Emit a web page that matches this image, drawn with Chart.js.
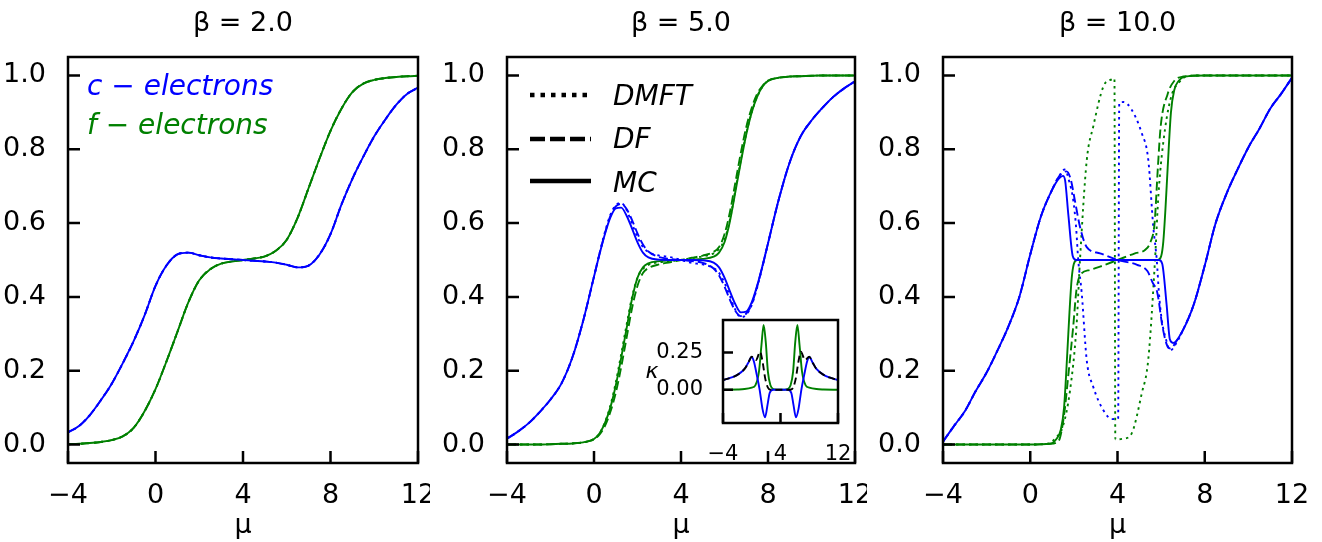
<!DOCTYPE html>
<html>
<head>
<meta charset="utf-8">
<script src="https://cdn.jsdelivr.net/npm/chart.js@4.4.1/dist/chart.umd.min.js"></script>
<style>
  body { margin: 0; background: #fff; }
  #wrap { position: relative; width: 1322px; height: 542px; background: #fff; }
  canvas { position: absolute; top: 0; }
</style>
</head>
<body>
<div id="wrap">
  <canvas id="p1" width="430" height="542" style="left:0px"></canvas>
  <canvas id="p2" width="428" height="542" style="left:439px"></canvas>
  <canvas id="p3" width="447" height="542" style="left:875px"></canvas>
  <canvas id="ins" width="215" height="150" style="left:640px;top:310px"></canvas>
</div>
<script>
// tick values
var muTicks = [-4, 0, 4, 8, 12];
var nTicks = [0, 0.2, 0.4, 0.6, 0.8, 1.0];
var insetMuTicks = [-4, 4, 12];
var kappaTicks = [0, 0.25];

// beta = 2.0 (DMFT, DF and MC lie on top of each other)
var mu1 = [-4, -3.5, -3, -2.5, -2, -1.5, -1, -0.5, 0, 0.5, 1, 1.5, 2, 2.5, 3, 3.5, 4,
           4.5, 5, 5.5, 6, 6.5, 7, 7.5, 8, 8.5, 9, 9.5, 10, 10.5, 11, 11.5, 12];
var c1 = [0.033, 0.05, 0.08, 0.12, 0.165, 0.22, 0.28, 0.35, 0.43, 0.485, 0.515, 0.52, 0.513, 0.507, 0.504, 0.502, 0.5,
          0.498, 0.496, 0.493, 0.487, 0.48, 0.485, 0.515, 0.57, 0.65, 0.72, 0.78, 0.835, 0.88, 0.92, 0.95, 0.967];
var f1 = [0.001, 0.002, 0.004, 0.007, 0.012, 0.022, 0.045, 0.09, 0.15, 0.225, 0.305, 0.385, 0.445, 0.475, 0.49, 0.496, 0.5,
          0.504, 0.51, 0.525, 0.555, 0.615, 0.695, 0.775, 0.85, 0.91, 0.955, 0.978, 0.988, 0.993, 0.996, 0.998, 0.999];

// beta = 5.0
var mu2 = [-4, -3.5, -3, -2.5, -2, -1.5, -1, -0.5, 0, 0.25, 0.5, 0.75, 1, 1.25, 1.5, 1.75, 2, 2.25, 2.5, 3, 3.5, 4,
           4.5, 5, 5.5, 5.75, 6, 6.25, 6.5, 6.75, 7, 7.25, 7.5, 7.75, 8, 8.5, 9, 9.5, 10, 10.5, 11, 11.5, 12];
var c2MC = [0.016, 0.035, 0.058, 0.088, 0.122, 0.165, 0.235, 0.335, 0.455, 0.515, 0.57, 0.615, 0.64, 0.642, 0.62, 0.585, 0.548, 0.52, 0.507, 0.501, 0.5, 0.5,
            0.5, 0.499, 0.493, 0.48, 0.452, 0.415, 0.38, 0.358, 0.36, 0.385, 0.43, 0.485, 0.545, 0.665, 0.765, 0.835, 0.878, 0.912, 0.942, 0.965, 0.984];
var c2DMFT = [0.016, 0.035, 0.058, 0.088, 0.122, 0.165, 0.235, 0.335, 0.455, 0.517, 0.575, 0.622, 0.648, 0.655, 0.635, 0.598, 0.562, 0.535, 0.522, 0.512, 0.508, 0.5,
              0.492, 0.488, 0.478, 0.465, 0.438, 0.402, 0.365, 0.345, 0.352, 0.378, 0.425, 0.483, 0.545, 0.665, 0.765, 0.835, 0.878, 0.912, 0.942, 0.965, 0.984];
var c2DF = [0.016, 0.035, 0.058, 0.088, 0.122, 0.165, 0.235, 0.335, 0.455, 0.516, 0.572, 0.619, 0.645, 0.652, 0.638, 0.608, 0.572, 0.542, 0.523, 0.508, 0.503, 0.5,
            0.497, 0.492, 0.477, 0.458, 0.428, 0.392, 0.362, 0.348, 0.355, 0.38, 0.428, 0.484, 0.545, 0.665, 0.765, 0.835, 0.878, 0.912, 0.942, 0.965, 0.984];
var f2MC = [0, 0, 0, 0, 0.001, 0.002, 0.003, 0.006, 0.015, 0.03, 0.058, 0.1, 0.16, 0.235, 0.315, 0.395, 0.452, 0.48, 0.491, 0.497, 0.499, 0.5,
            0.501, 0.503, 0.509, 0.52, 0.548, 0.605, 0.685, 0.765, 0.84, 0.9, 0.942, 0.97, 0.985, 0.994, 0.997, 0.998, 0.999, 1, 1, 1, 1];
var f2DMFT = [0, 0, 0, 0, 0.001, 0.002, 0.003, 0.006, 0.015, 0.03, 0.06, 0.105, 0.168, 0.245, 0.325, 0.4, 0.452, 0.476, 0.487, 0.494, 0.497, 0.5,
              0.505, 0.51, 0.518, 0.53, 0.555, 0.61, 0.69, 0.77, 0.842, 0.9, 0.942, 0.97, 0.985, 0.994, 0.997, 0.998, 0.999, 1, 1, 1, 1];
var f2DF = [0, 0, 0, 0, 0.001, 0.002, 0.003, 0.006, 0.014, 0.027, 0.05, 0.088, 0.14, 0.21, 0.29, 0.37, 0.43, 0.465, 0.478, 0.488, 0.494, 0.5,
            0.506, 0.512, 0.522, 0.535, 0.57, 0.63, 0.71, 0.79, 0.86, 0.912, 0.95, 0.972, 0.986, 0.994, 0.997, 0.998, 0.999, 1, 1, 1, 1];

// beta = 10.0
var mu3cMC = [-4, -3.5, -3, -2.5, -2, -1.5, -1, -0.5, 0, 0.5, 1, 1.3, 1.5, 1.6, 1.75, 1.95, 2.1, 4, 5.9,
              6.05, 6.25, 6.4, 6.55, 7, 7.5, 8, 8.5, 9, 9.5, 10, 10.5, 11, 11.5, 12];
var c3MC = [0.008, 0.05, 0.09, 0.145, 0.195, 0.255, 0.32, 0.4, 0.515, 0.62, 0.69, 0.72, 0.728, 0.715, 0.62, 0.51, 0.5, 0.5, 0.5,
            0.49, 0.38, 0.285, 0.275, 0.31, 0.38, 0.485, 0.6, 0.68, 0.745, 0.805, 0.855, 0.91, 0.95, 0.994];
var mu3cDMFT = [-4, -3.5, -3, -2.5, -2, -1.5, -1, -0.5, 0, 0.5, 1, 1.3, 1.58, 1.8, 1.97, 2.1, 2.2, 2.36, 2.59, 2.89, 3.36, 3.75,
                4.03, 4.08, 4.28, 4.64, 5.11, 5.41, 5.64, 5.8, 5.9, 6.03, 6.2, 6.42, 6.7,
                7, 7.5, 8, 8.5, 9, 9.5, 10, 10.5, 11, 11.5, 12];
var c3DMFT = [0.008, 0.05, 0.09, 0.145, 0.195, 0.255, 0.32, 0.4, 0.515, 0.62, 0.69, 0.725, 0.745, 0.71, 0.663, 0.59, 0.5, 0.41, 0.228, 0.156, 0.092, 0.069,
              0.07, 0.926, 0.928, 0.908, 0.844, 0.772, 0.59, 0.5, 0.41, 0.337, 0.29, 0.255, 0.275,
              0.31, 0.38, 0.485, 0.6, 0.68, 0.745, 0.805, 0.855, 0.91, 0.95, 0.994];
var mu3cDF = [-4, -3.5, -3, -2.5, -2, -1.5, -1, -0.5, 0, 0.5, 1, 1.3, 1.66, 1.85, 2.05, 2.28, 2.59, 3.2, 4,
              4.9, 5.37, 5.6, 5.83, 6.06, 6.3, 6.44, 6.7, 7, 7.5, 8, 8.5, 9, 9.5, 10, 10.5, 11, 11.5, 12];
var c3DF = [0.008, 0.05, 0.09, 0.145, 0.195, 0.255, 0.32, 0.4, 0.515, 0.62, 0.69, 0.725, 0.74, 0.72, 0.66, 0.59, 0.535, 0.518, 0.5,
            0.487, 0.47, 0.44, 0.41, 0.32, 0.265, 0.26, 0.28, 0.31, 0.38, 0.485, 0.6, 0.68, 0.745, 0.805, 0.855, 0.91, 0.95, 0.994];
var mu3fMC = [-4, -2, 0, 0.9, 1.2, 1.4, 1.55, 1.7, 1.8, 1.9, 2.0, 2.15, 4, 5.85, 6.0, 6.1, 6.2, 6.3, 6.45, 6.6, 6.8, 7.1, 8, 12];
var f3MC = [0, 0, 0, 0.002, 0.015, 0.04, 0.1, 0.25, 0.36, 0.45, 0.49, 0.5, 0.5, 0.5, 0.51, 0.55, 0.64, 0.75, 0.9, 0.96, 0.985, 0.997, 1, 1];
var mu3fDMFT = [-4, 0, 0.8, 1.2, 1.5, 1.82, 2.12, 2.28, 2.59, 2.89, 3.36, 3.75, 3.86, 3.9, 4.28,
                4.64, 5.11, 5.41, 5.72, 5.88, 6.18, 6.5, 6.8, 7.2, 8, 12];
var f3DMFT = [0, 0, 0.002, 0.02, 0.05, 0.145, 0.32, 0.5, 0.77, 0.862, 0.971, 0.99, 0.992, 0.014, 0.016,
              0.029, 0.138, 0.23, 0.5, 0.68, 0.855, 0.95, 0.98, 0.998, 1, 1];
var mu3fDF = [-4, 0, 0.9, 1.3, 1.55, 1.74, 1.97, 2.12, 2.3, 2.74, 3.2, 4, 4.8, 5.26, 5.52, 5.7, 5.85, 5.98, 6.3, 6.6, 7, 8, 12];
var f3DF = [0, 0, 0.002, 0.01, 0.08, 0.185, 0.32, 0.42, 0.46, 0.473, 0.482, 0.5, 0.518, 0.527, 0.55, 0.6, 0.75, 0.862, 0.95, 0.985, 0.997, 1, 1];

// inset, kappa at beta = 5.0
var muKc = [-4, -3, -2, -1, -0.5, 0, 0.3, 0.7, 1.1, 1.5, 1.85, 2.2, 2.5, 3, 4, 5, 5.5, 5.8, 6.15, 6.5, 6.9, 7.3, 7.7, 8, 8.5, 9, 10, 11, 12];
var kappaC = [0.065, 0.08, 0.1, 0.14, 0.18, 0.22, 0.19, 0.1, 0.0, -0.13, -0.185, -0.1, -0.02, 0, 0, 0, -0.02, -0.1, -0.185, -0.13, 0.0, 0.1, 0.19, 0.22, 0.18, 0.14, 0.1, 0.08, 0.065];
var muKf = [-4, -2, -1, 0, 0.5, 1, 1.35, 1.65, 1.95, 2.25, 2.6, 3, 4, 5, 5.4, 5.75, 6.05, 6.35, 6.65, 7, 7.5, 8, 9, 10, 12];
var kappaF = [0, 0.002, 0.005, 0.015, 0.03, 0.12, 0.3, 0.435, 0.32, 0.12, 0.03, 0.005, 0, 0.005, 0.03, 0.12, 0.32, 0.435, 0.3, 0.12, 0.03, 0.015, 0.005, 0.002, 0];
var muKt = [-4, -3, -2, -1, -0.5, 0, 0.6, 1.16, 1.5, 1.9, 2.4, 3, 4, 5, 5.6, 6.1, 6.5, 6.84, 7.4, 8, 8.5, 9, 10, 11, 12];
var kappaT = [0.065, 0.08, 0.1, 0.14, 0.18, 0.222, 0.2, 0.256, 0.19, 0.07, 0.005, 0, 0, 0, 0.005, 0.07, 0.19, 0.256, 0.2, 0.222, 0.18, 0.14, 0.1, 0.08, 0.065];

var BLUE = '#0000ff', GREEN = '#008000';
var DOT = [2.5, 4], DASH = [9, 4];

Chart.defaults.font.family = '"DejaVu Sans", sans-serif';
Chart.defaults.color = '#000';

function pts(xs, ys) {
  return xs.map(function(x, i) { return {x: x, y: ys[i]}; });
}
function line(xs, ys, color, dash) {
  return {data: pts(xs, ys), borderColor: color, borderDash: dash || [], borderWidth: 1.9,
          pointRadius: 0, fill: false, cubicInterpolationMode: 'monotone'};
}
function fmtMu(v) { return v < 0 ? '\u2212' + Math.abs(v) : String(v); }

// frame, inward ticks and free text
var framePlugin = {
  id: 'frame',
  beforeDraw: function(chart, args, opts) {
    if (!opts.fillArea) return;
    var a = chart.chartArea, ctx = chart.ctx;
    ctx.save();
    ctx.fillStyle = '#fff';
    ctx.fillRect(a.left, a.top, a.right - a.left, a.bottom - a.top);
    ctx.restore();
  },
  afterDraw: function(chart, args, opts) {
    var ctx = chart.ctx, a = chart.chartArea, len = opts.tickLen || 12;
    var xs = chart.scales.x, ys = chart.scales.y;
    ctx.save();
    ctx.strokeStyle = '#000';
    ctx.lineWidth = 2.5;
    ctx.beginPath();
    xs.ticks.forEach(function(t) {
      var px = xs.getPixelForValue(t.value);
      ctx.moveTo(px, a.bottom); ctx.lineTo(px, a.bottom - len);
    });
    ys.ticks.forEach(function(t) {
      var py = ys.getPixelForValue(t.value);
      ctx.moveTo(a.left, py); ctx.lineTo(a.left + len, py);
    });
    ctx.stroke();
    ctx.strokeRect(a.left, a.top, a.right - a.left, a.bottom - a.top);

    (opts.keys || []).forEach(function(k) {
      ctx.beginPath();
      ctx.lineWidth = 4.5;
      ctx.setLineDash(k.dash);
      ctx.moveTo(a.left + k.x1, a.top + k.y);
      ctx.lineTo(a.left + k.x2, a.top + k.y);
      ctx.stroke();
    });
    ctx.setLineDash([]);
    (opts.notes || []).forEach(function(n) {
      ctx.font = n.font;
      ctx.fillStyle = n.color || '#000';
      ctx.textAlign = n.align || 'left';
      ctx.textBaseline = 'alphabetic';
      ctx.fillText(n.text, a.left + n.x, a.top + n.y);
    });
    ctx.restore();
  }
};

function panel(id, title, datasets, padRight, extra) {
  return new Chart(document.getElementById(id), {
    type: 'line',
    data: {datasets: datasets},
    options: {
      responsive: false,
      animation: false,
      devicePixelRatio: 1,
      layout: {padding: {left: 0, right: padRight, top: 0, bottom: 0}},
      scales: {
        x: {
          type: 'linear', min: -4, max: 12,
          afterBuildTicks: function(s) { s.ticks = muTicks.map(function(v) { return {value: v}; }); },
          afterFit: function(s) { s.height = 79; s.paddingLeft = 0; s.paddingRight = 0; },
          ticks: {font: {size: 27}, padding: 9, maxRotation: 0, autoSkip: false, callback: fmtMu},
          grid: {display: false},
          border: {display: false},
          title: {display: true, text: 'μ', font: {size: 27, lineHeight: 1.2}, padding: {top: 0, bottom: 0}}
        },
        y: {
          type: 'linear', min: -0.05, max: 1.05,
          afterBuildTicks: function(s) { s.ticks = nTicks.map(function(v) { return {value: v}; }); },
          afterFit: function(s) { s.width = 68; s.paddingTop = 0; s.paddingBottom = 0; },
          ticks: {font: {size: 27}, padding: 14, callback: function(v) { return v.toFixed(1); }},
          grid: {display: false},
          border: {display: false}
        }
      },
      plugins: {
        legend: {display: false},
        tooltip: {enabled: false},
        title: {display: true, text: title, fullSize: false, font: {size: 27, weight: 'normal', lineHeight: 1.2},
                padding: {top: 8, bottom: 16.6}},
        frame: extra || {}
      }
    },
    plugins: [framePlugin]
  });
}

panel('p1', 'β = 2.0', [
  line(mu1, c1, BLUE), line(mu1, f1, GREEN),
  line(mu1, c1, BLUE, DASH), line(mu1, f1, GREEN, DASH),
  line(mu1, c1, BLUE, DOT), line(mu1, f1, GREEN, DOT)
], 12, {
  notes: [
    {text: 'c \u2212 electrons', x: 19, y: 38, color: BLUE, font: 'italic 28px "DejaVu Sans"'},
    {text: 'f \u2212 electrons', x: 19, y: 77, color: GREEN, font: 'italic 28px "DejaVu Sans"'}
  ]
});

panel('p2', 'β = 5.0', [
  line(mu2, c2MC, BLUE), line(mu2, f2MC, GREEN),
  line(mu2, c2DF, BLUE, DASH), line(mu2, f2DF, GREEN, DASH),
  line(mu2, c2DMFT, BLUE, DOT), line(mu2, f2DMFT, GREEN, DOT)
], 12, {
  keys: [
    {x1: 23, x2: 84, y: 38, dash: [4.5, 6]},
    {x1: 23, x2: 84, y: 82, dash: [15, 5]},
    {x1: 23, x2: 84, y: 124, dash: []}
  ],
  notes: [
    {text: 'DMFT', x: 106, y: 48, font: 'italic 28px "DejaVu Sans"'},
    {text: 'DF', x: 106, y: 91, font: 'italic 28px "DejaVu Sans"'},
    {text: 'MC', x: 106, y: 135, font: 'italic 28px "DejaVu Sans"'}
  ]
});

panel('p3', 'β = 10.0', [
  line(mu3cMC, c3MC, BLUE), line(mu3fMC, f3MC, GREEN),
  line(mu3cDF, c3DF, BLUE, DASH), line(mu3fDF, f3DF, GREEN, DASH),
  line(mu3cDMFT, c3DMFT, BLUE, DOT), line(mu3fDMFT, f3DMFT, GREEN, DOT)
], 30);

// inset
new Chart(document.getElementById('ins'), {
  type: 'line',
  data: {datasets: [
    line(muKt, kappaT, '#000', [7, 4]),
    line(muKc, kappaC, BLUE),
    line(muKf, kappaF, GREEN)
  ]},
  options: {
    responsive: false,
    animation: false,
    devicePixelRatio: 1,
    layout: {padding: {left: 0, right: 17, top: 10, bottom: 0}},
    scales: {
      x: {
        type: 'linear', min: -4, max: 12,
        afterBuildTicks: function(s) { s.ticks = insetMuTicks.map(function(v) { return {value: v}; }); },
        afterFit: function(s) { s.height = 37; s.paddingLeft = 0; s.paddingRight = 0; },
        ticks: {font: {size: 21}, padding: 11, maxRotation: 0, autoSkip: false, callback: fmtMu},
        grid: {display: false},
        border: {display: false}
      },
      y: {
        type: 'linear', min: -0.223, max: 0.469,
        afterBuildTicks: function(s) { s.ticks = kappaTicks.map(function(v) { return {value: v}; }); },
        afterFit: function(s) { s.width = 83; s.paddingTop = 0; s.paddingBottom = 0; },
        ticks: {font: {size: 21}, padding: 12, callback: function(v) { return v.toFixed(2); }},
        grid: {display: false},
        border: {display: false}
      }
    },
    plugins: {
      legend: {display: false},
      tooltip: {enabled: false},
      frame: {
        fillArea: true, tickLen: 10,
        notes: [{text: 'κ', x: -71, y: 58, font: 'italic 22px "DejaVu Sans"', align: 'center'}]
      }
    }
  },
  plugins: [framePlugin]
});
</script>
</body>
</html>
